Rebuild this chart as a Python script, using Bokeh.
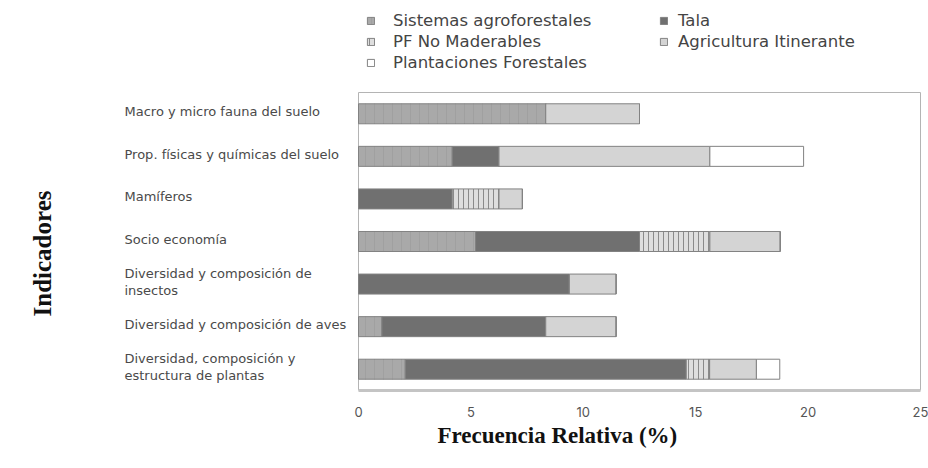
import math
from bokeh.plotting import figure
from bokeh.models import (ColumnDataSource, Range1d, FixedTicker, Legend, LegendItem, Title)
from bokeh.core.properties import value
from bokeh.embed import file_html
from bokeh.resources import INLINE

categories = [
    "Macro y micro fauna del suelo",
    "Prop. físicas y químicas del suelo",
    "Mamíferos",
    "Socio economía",
    "Diversidad y composición de\ninsectos",
    "Diversidad y composición de aves",
    "Diversidad, composición y\nestructura de plantas",
]
series_names = ["Sistemas agroforestales", "Tala", "PF No Maderables",
                "Agricultura Itinerante", "Plantaciones Forestales"]
sistemas_agroforestales = [8.33, 4.17, 0.0, 5.21, 0.0, 1.04, 2.08]
tala = [0.0, 2.08, 4.17, 7.29, 9.38, 7.29, 12.50]
pf_no_maderables = [0.0, 0.0, 2.08, 3.13, 0.0, 0.0, 1.04]
agricultura_itinerante = [4.17, 9.38, 1.04, 3.13, 2.08, 3.13, 2.08]
plantaciones_forestales = [0.0, 4.17, 0.0, 0.0, 0.0, 0.0, 1.04]
x_ticks = [0, 5, 10, 15, 20, 25]

values = [sistemas_agroforestales, tala, pf_no_maderables,
          agricultura_itinerante, plantaciones_forestales]
styles = [
    dict(fill_color="#a9a9a9", hatch_pattern="|", hatch_color="#a0a0a0", hatch_scale=9, hatch_weight=1),
    dict(fill_color="#707070"),
    dict(fill_color="#dedede", hatch_pattern="|", hatch_color="#8a8a8a", hatch_scale=5, hatch_weight=1),
    dict(fill_color="#d4d4d4"),
    dict(fill_color="#ffffff"),
]

n = len(categories)
ypos = [n - 1 - i for i in range(n)]

# layout (pixels in canvas)
W, H = 928, 468
box_l, box_r, box_t, box_b = 358, 920, 92, 390
ppx = (box_r - box_l) / (x_ticks[-1] - x_ticks[0])
ppy = (box_b - box_t) / n
x0 = x_ticks[0] - box_l / ppx
x1 = x_ticks[-1] + (W - box_r) / ppx
y0 = -0.5
y1 = n - 0.5 + box_t / ppy

p = figure(width=W, height=H, output_backend="svg", toolbar_location=None,
           x_range=Range1d(x0, x1), y_range=Range1d(y0, y1),
           min_border_left=0, min_border_right=0, min_border_top=0,
           min_border_bottom=H - box_b)
p.grid.visible = False
p.outline_line_color = None
p.yaxis.visible = False

# plot box
p.quad(left=[x_ticks[0]], right=[x_ticks[-1]], bottom=[-0.5], top=[n - 0.5],
       fill_color=None, line_color="#b4b4b4", line_width=1)

left = [0.0] * n
renderers = []
for name, vals, st in zip(series_names, values, styles):
    right = [l + v for l, v in zip(left, vals)]
    src = ColumnDataSource(dict(y=ypos, left=left, right=right))
    r = p.hbar(y="y", left="left", right="right", height=0.47, source=src,
               line_color="#828282", line_width=1, **st)
    renderers.append(r)
    left = right

xa = p.xaxis[0]
xa.ticker = FixedTicker(ticks=x_ticks)
xa.bounds = (x_ticks[0], x_ticks[-1])
xa.axis_line_color = "#c4c4c4"
xa.axis_line_width = 3
xa.major_tick_line_color = None
xa.minor_tick_line_color = None
xa.major_label_text_font = "Inter"
xa.major_label_text_font_size = "13px"
xa.major_label_text_color = "#555555"
xa.major_label_standoff = 10

# category labels
lab_src = ColumnDataSource(dict(x=[x_ticks[0]] * n, y=ypos, text=categories))
p.text(x="x", y="y", text="text", source=lab_src, x_offset=124 - box_l, y_offset=-2,
       text_font=value("DejaVu Sans"), text_font_size="13px", text_color="#4a4a4a",
       text_align="left", text_baseline="middle", text_line_height=1.15)

# y title
p.text(x=[x_ticks[0]], y=[sum(ypos) / n], text=["Indicadores"], x_offset=42 - box_l, y_offset=12,
       angle=math.pi / 2, text_font=value("Liberation Serif"), text_font_style="bold",
       text_font_size="25px", text_color="#111111", text_align="center",
       text_baseline="middle")

# x title
p.add_layout(Title(text="Frecuencia Relativa (%)", align="left", offset=437,
                   text_font="Liberation Serif", text_font_style="bold",
                   text_font_size="23px", text_color="#111111", standoff=2), "below")

def make_legend(items, loc, standoff):
    return Legend(items=items, location=loc, orientation="vertical",
                  glyph_width=9, glyph_height=9, label_standoff=standoff, label_height=21,
                  spacing=0, padding=0, margin=0, border_line_color=None,
                  background_fill_alpha=0, label_text_font="DejaVu Sans",
                  label_text_font_size="16.5px", label_text_color="#444444")

frame_h = box_b
lg1 = make_legend([LegendItem(label=series_names[0], renderers=[renderers[0]]),
                   LegendItem(label=series_names[2], renderers=[renderers[2]]),
                   LegendItem(label=series_names[4], renderers=[renderers[4]])],
                  (366, frame_h - 72.5), 18)
lg2 = make_legend([LegendItem(label=series_names[1], renderers=[renderers[1]]),
                   LegendItem(label=series_names[3], renderers=[renderers[3]])],
                  (659, frame_h - 51.5), 10)
p.add_layout(lg1)
p.add_layout(lg2)

open("out.html", "w").write(file_html(p, INLINE))
